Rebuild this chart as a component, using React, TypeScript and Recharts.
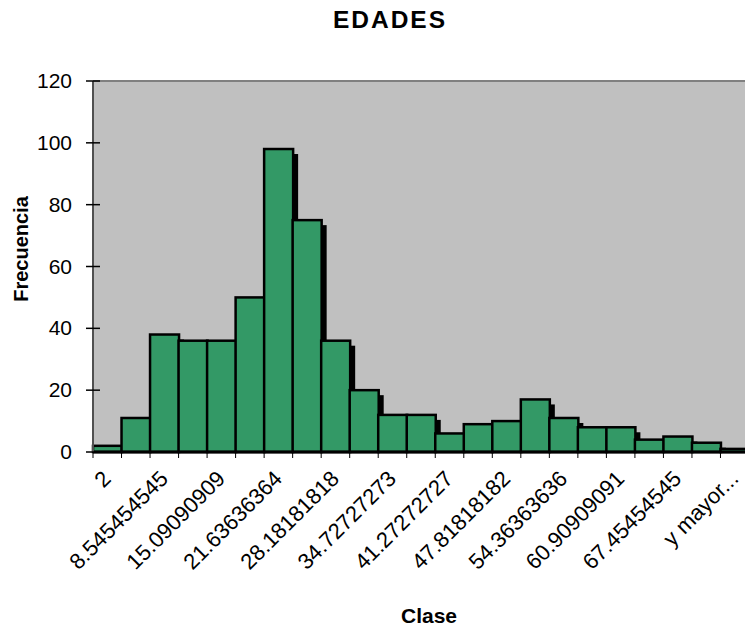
import React from 'react'
import { BarChart, Bar, XAxis, YAxis, CartesianGrid, ReferenceLine } from 'recharts'

const clases = [
  '2', '5.272727273', '8.545454545', '11.81818182', '15.09090909', '18.36363636',
  '21.63636364', '24.90909091', '28.18181818', '31.45454545', '34.72727273', '38',
  '41.27272727', '44.54545455', '47.81818182', '51.09090909', '54.36363636',
  '57.63636364', '60.90909091', '64.18181818', '67.45454545', '70.72727273', 'y mayor...',
]
const frecuencia = [2, 11, 38, 36, 36, 50, 98, 75, 36, 20, 12, 12, 6, 9, 10, 17, 11, 8, 8, 4, 5, 3, 1]
const yTicks = [0, 20, 40, 60, 80, 100, 120]

const data = clases.map((c, i) => ({ clase: c, frecuencia: frecuencia[i] }))

const FONT = '"Liberation Sans", Arial, sans-serif'
const W = 749
const H = 629
const LEFT = 93
const TOP = 81
const XAXIS_H = 177

const ShadowBar = (props: any) => {
  const { x, y, width, height } = props
  if (height == null) return null
  return (
    <g>
      <rect x={x + 5} y={y + 5} width={width} height={Math.max(height - 5, 0)} fill="#000" />
      <rect x={x} y={y} width={width} height={height} fill="#339966" stroke="#000" strokeWidth={2.5} />
    </g>
  )
}

const XTick = (props: any) => {
  const { x, y, payload, index } = props
  const step = (W - LEFT) / clases.length
  const bx = x - step / 2
  return (
    <g>
      <line x1={bx} y1={452} x2={bx} y2={458} stroke="#000" strokeWidth={1} />
      {index % 2 === 0 && (
        <text
          x={0}
          y={0}
          transform={`translate(${x + 5},${y + 20}) rotate(-45)`}
          textAnchor="end"
          fontFamily={FONT}
          fontSize={22}
          fill="#000"
        >
          {payload.value}
        </text>
      )}
    </g>
  )
}

const YTick = (props: any) => {
  const { x, y, payload } = props
  return (
    <g>
      <line x1={x - 7} y1={y} x2={x + 7} y2={y} stroke="#000" strokeWidth={1.5} />
      <text x={x - 21} y={y + 7} textAnchor="end" fontFamily={FONT} fontSize={21} fill="#000">
        {payload.value}
      </text>
    </g>
  )
}

export default function App() {
  return (
    <div style={{ position: 'absolute', left: 0, top: 0, width: 745, height: 629, overflow: 'hidden', background: '#fff', fontFamily: FONT }}>
      <div style={{ position: 'absolute', left: 0, width: 780, top: 6, textAlign: 'center', fontWeight: 'bold', fontSize: 24.5, letterSpacing: 2 }}>
        EDADES
      </div>
      <div
        style={{
          position: 'absolute', left: 21, top: 249, fontWeight: 'bold', fontSize: 20,
          transform: 'translate(-50%, -50%) rotate(-90deg)', whiteSpace: 'nowrap',
        }}
      >
        Frecuencia
      </div>
      <div style={{ position: 'absolute', left: 429, top: 604, transform: 'translateX(-50%)', fontWeight: 'bold', fontSize: 21 }}>
        Clase
      </div>
      <BarChart
        width={W}
        height={H}
        data={data}
        barCategoryGap={0}
        margin={{ top: TOP, right: 0, bottom: 0, left: 0 }}
        style={{ position: 'absolute', left: 0, top: 0 }}
      >
        <CartesianGrid fill="#C0C0C0" horizontal={false} vertical={false} />
        <XAxis
          dataKey="clase"
          interval={0}
          height={XAXIS_H}
          tick={<XTick />}
          tickLine={false}
          tickSize={6}
          tickMargin={2}
          axisLine={false}
        />
        <YAxis
          width={LEFT}
          domain={[0, 120]}
          ticks={yTicks}
          tick={<YTick />}
          tickSize={0}
          tickMargin={0}
          tickLine={false}
          axisLine={{ stroke: '#505050', strokeWidth: 2 }}
        />
        <ReferenceLine y={120} stroke="#808080" strokeWidth={2} />
        <Bar dataKey="frecuencia" shape={<ShadowBar />} isAnimationActive={false} />
        <ReferenceLine y={0} stroke="#000" strokeWidth={3} />
      </BarChart>
    </div>
  )
}
